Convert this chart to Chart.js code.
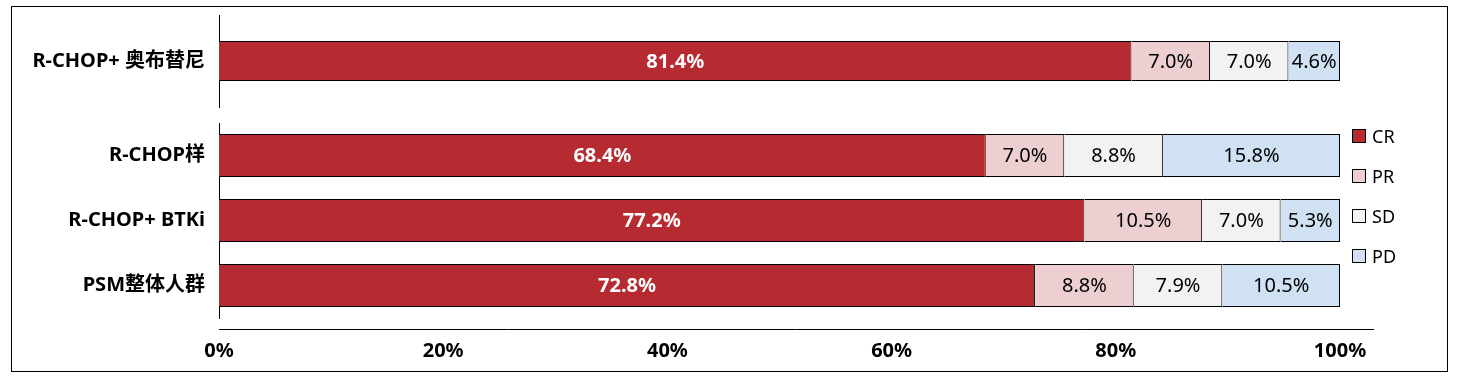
<!DOCTYPE html>
<html>
<head>
<meta charset="utf-8">
<script src="https://cdn.jsdelivr.net/npm/chart.js@4/dist/chart.umd.min.js"></script>
<style>
  body { margin: 0; background: #fff; width: 1457px; height: 377px; position: relative; overflow: hidden; }
  #frame { position: absolute; left: 11px; top: 6px; width: 1437px; height: 366px; border: 1px solid #000; box-sizing: border-box; }
  #topWrap { position: absolute; left: 12px; top: 7px; width: 1435px; height: 108px; }
  #bottomWrap { position: absolute; left: 12px; top: 115px; width: 1435px; height: 256px; }
  #legend { position: absolute; left: 1352px; top: 116px; margin: 0; padding: 0; list-style: none; }
  #legend li { height: 40px; display: flex; align-items: center; font: 18px "Noto Sans", sans-serif; color: #000; }
  #legend span.box { width: 14px; height: 14px; border: 1px solid #000; box-sizing: border-box; margin-right: 6px; }
</style>
</head>
<body>
<div id="frame"></div>
<div id="topWrap"><canvas id="topChart"></canvas></div>
<div id="bottomWrap"><canvas id="bottomChart"></canvas></div>
<ul id="legend"></ul>
<script>
// categories and series values
var categories = ["R-CHOP+ 奥布替尼", "R-CHOP样", "R-CHOP+ BTKi", "PSM整体人群"];
var crValues = [81.4, 68.4, 77.2, 72.8];
var prValues = [7.0, 7.0, 10.5, 8.8];
var sdValues = [7.0, 8.8, 7.0, 7.9];
var pdValues = [4.6, 15.8, 5.3, 10.5];
var seriesNames = ["CR", "PR", "SD", "PD"];
var seriesColors = ["#b62a31", "#edcfd1", "#f2f2f2", "#cfe1f2"];
var xTicks = [0, 20, 40, 60, 80, 100];

var fontFamily = '"Noto Sans", "Noto Sans CJK SC", sans-serif';

// builds the datasets for a slice of the categories
function makeData(from, to) {
  var all = [crValues, prValues, sdValues, pdValues];
  return {
    labels: categories.slice(from, to),
    datasets: all.map(function (vals, i) {
      return {
        label: seriesNames[i],
        data: vals.slice(from, to),
        backgroundColor: seriesColors[i],
        borderColor: "#000",
        borderWidth: 1,
      };
    }),
  };
}

// writes the value in the middle of every bar segment
var valueLabels = {
  id: "valueLabels",
  afterDatasetsDraw: function (chart) {
    var ctx = chart.ctx;
    ctx.save();
    ctx.textAlign = "center";
    ctx.textBaseline = "middle";
    chart.data.datasets.forEach(function (ds, i) {
      chart.getDatasetMeta(i).data.forEach(function (bar, j) {
        var p = bar.getCenterPoint();
        ctx.fillStyle = i === 0 ? "#fff" : "#000";
        ctx.font = (i === 0 ? "bold " : "") + "20px " + fontFamily;
        ctx.fillText(ds.data[j].toFixed(1) + "%", p.x, p.y + 1);
      });
    });
    ctx.restore();
  },
};

// bottom axis line sits a little below the plot
var axisLine = {
  id: "axisLine",
  afterDraw: function (chart) {
    var a = chart.chartArea;
    var ctx = chart.ctx;
    ctx.save();
    ctx.strokeStyle = "#000";
    ctx.lineWidth = 1;
    ctx.beginPath();
    ctx.moveTo(a.left, Math.round(a.bottom + 11) + 0.5);
    ctx.lineTo(a.right + 34, Math.round(a.bottom + 11) + 0.5);
    ctx.stroke();
    ctx.restore();
  },
};

// html legend from the chart's own legend items
var htmlLegend = {
  id: "htmlLegend",
  afterUpdate: function (chart) {
    var ul = document.getElementById("legend");
    ul.innerHTML = "";
    var items = chart.options.plugins.legend.labels.generateLabels(chart);
    items.forEach(function (item) {
      var li = document.createElement("li");
      var box = document.createElement("span");
      box.className = "box";
      box.style.background = item.fillStyle;
      li.appendChild(box);
      li.appendChild(document.createTextNode(item.text));
      ul.appendChild(li);
    });
  },
};

function makeOptions(isBottom) {
  return {
    indexAxis: "y",
    responsive: true,
    maintainAspectRatio: false,
    animation: false,
    layout: {
      padding: isBottom
        ? { top: 8, bottom: 13, left: 0, right: 107 }
        : { top: 8, bottom: 8, left: 0, right: 107 },
    },
    datasets: {
      bar: {
        barPercentage: 1,
        categoryPercentage: isBottom ? 0.66 : 0.435,
      },
    },
    plugins: {
      legend: { display: false },
      tooltip: { enabled: false },
    },
    scales: {
      x: {
        stacked: true,
        min: 0,
        max: 100,
        display: isBottom,
        grid: { display: false, drawTicks: false },
        border: { display: false },
        afterBuildTicks: function (scale) {
          scale.ticks = xTicks.map(function (v) { return { value: v }; });
        },
        afterFit: function (scale) {
          if (isBottom) scale.height = 40;
        },
        ticks: {
          padding: 21,
          color: "#000",
          font: { family: fontFamily, size: 20, weight: "bold" },
          callback: function (v) { return v + "%"; },
        },
      },
      y: {
        stacked: true,
        grid: { display: false, drawTicks: false },
        border: { display: true, color: "#000", width: 1 },
        afterFit: function (scale) {
          scale.width = 207;
          // labels sit mid-category, no need for extra room above/below
          scale.paddingTop = 0;
          scale.paddingBottom = 0;
        },
        ticks: {
          padding: 14,
          color: "#000",
          font: { family: fontFamily, size: 20, weight: "bold" },
        },
      },
    },
  };
}

var topChart = new Chart(document.getElementById("topChart").getContext("2d"), {
  type: "bar",
  data: makeData(0, 1),
  options: makeOptions(false),
  plugins: [valueLabels],
});

var bottomChart = new Chart(document.getElementById("bottomChart").getContext("2d"), {
  type: "bar",
  data: makeData(1, 4),
  options: makeOptions(true),
  plugins: [valueLabels, axisLine, htmlLegend],
});
</script>
</body>
</html>
